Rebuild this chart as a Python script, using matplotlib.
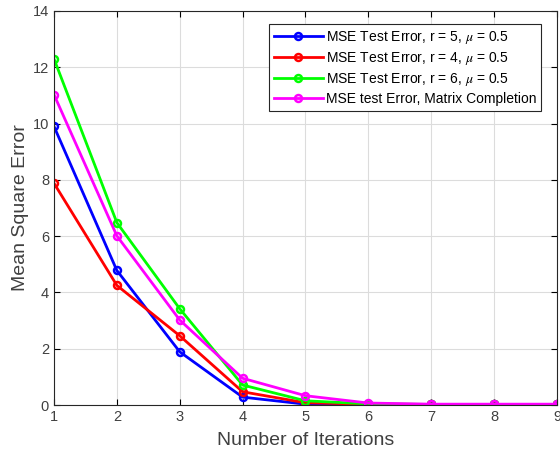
import matplotlib
matplotlib.use('Agg')
from matplotlib import pyplot as plt

iters = [1, 2, 3, 4, 5, 6, 7, 8, 9]
mse_r5 = [9.9, 4.78, 1.89, 0.28, 0.03, 0.02, 0.02, 0.02, 0.02]
mse_r4 = [7.88, 4.25, 2.46, 0.47, 0.08, 0.03, 0.02, 0.02, 0.02]
mse_r6 = [12.3, 6.48, 3.42, 0.71, 0.15, 0.04, 0.02, 0.02, 0.02]
mse_mc = [11.03, 6.01, 3.02, 0.95, 0.33, 0.07, 0.03, 0.03, 0.03]

labels = ['MSE Test Error, r = 5, $\\mu$ = 0.5',
          'MSE Test Error, r = 4, $\\mu$ = 0.5',
          'MSE Test Error, r = 6, $\\mu$ = 0.5',
          'MSE test Error, Matrix Completion']
colors = ['#0000ff', '#ff0000', '#00ff00', '#ff00ff']

plt.rcParams['font.family'] = ['Liberation Sans', 'DejaVu Sans']
plt.rcParams['mathtext.fontset'] = 'stix'

fig = plt.figure(figsize=(5.6, 4.58), dpi=100)
ax = fig.add_axes([0.0964, 0.1157, 0.8982, 0.8603])

for y, c, lab in zip([mse_r5, mse_r4, mse_r6, mse_mc], colors, labels):
    ax.plot(iters, y, color=c, lw=2, marker='o', ms=5, mfc='none',
            mew=1.8, label=lab)

ax.set_xlim(1, 9)
ax.set_ylim(0, 14)
ax.set_xticks(iters)
ax.set_yticks(range(0, 15, 2))
ax.grid(True, color='#dcdcdc', lw=0.8)
ax.set_axisbelow(True)
ax.tick_params(direction='in', top=True, right=True, labelsize=10.5,
               labelcolor='#404040', length=4)
for s in ax.spines.values():
    s.set_color('#262626')
    s.set_linewidth(0.8)
ax.set_xlabel('Number of Iterations', fontsize=14, color='#404040',
              labelpad=6)
ax.set_ylabel('Mean Square Error', fontsize=14, color='#404040',
              labelpad=3)

leg = ax.legend(loc='upper right', bbox_to_anchor=(0.968, 0.967),
                borderaxespad=0, fontsize=10, fancybox=False,
                edgecolor='#262626', handlelength=3.5, borderpad=0.35,
                labelspacing=0.3, handletextpad=0.2, framealpha=1)
leg.get_frame().set_linewidth(0.8)

plt.savefig('out.png', dpi=100)
